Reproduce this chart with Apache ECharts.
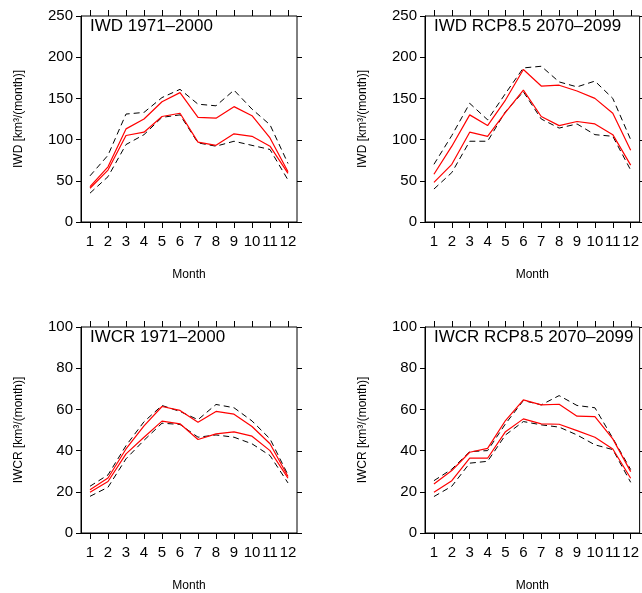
<!DOCTYPE html>
<html>
<head>
<meta charset="utf-8">
<script src="https://cdn.jsdelivr.net/npm/echarts@6/dist/echarts.min.js"></script>
<style>
  html, body { margin: 0; padding: 0; background: #fff; }
  #chart { width: 642px; height: 593px; }
</style>
</head>
<body>
<div id="chart"></div>
<script>
var months = ['1', '2', '3', '4', '5', '6', '7', '8', '9', '10', '11', '12'];

// IWD 1971-2000
var iwdHistHi = [56, 81, 131, 133, 151, 161, 143, 141, 160, 137, 118, 71];
var iwdHistRedHi = [43, 67, 113, 125, 146, 157, 127, 126, 140, 129, 102, 61];
var iwdHistRedLo = [41, 63, 105, 109, 128, 132, 97, 93, 107, 104, 92, 59];
var iwdHistLo = [35, 55, 94, 106, 127, 130, 96, 92, 98, 93, 88, 51];

// IWD RCP8.5 2070-2099
var iwdFutHi = [70, 105, 144, 124, 156, 187, 189, 170, 164, 171, 150, 100];
var iwdFutRedHi = [58, 92, 130, 117, 148, 185, 165, 166, 159, 150, 132, 87];
var iwdFutRedLo = [48, 70, 109, 104, 133, 160, 128, 117, 122, 119, 106, 69];
var iwdFutLo = [40, 60, 98, 98, 134, 158, 125, 114, 119, 106, 104, 63];

// IWCR 1971-2000
var iwcrHistHi = [22.7, 28.2, 42.4, 54, 61.9, 59, 55, 62.4, 60.8, 54.4, 45.7, 28.2];
var iwcrHistRedHi = [21, 26.7, 40.8, 52, 61.4, 59.5, 53.8, 59, 57.7, 51.7, 43.3, 27.4];
var iwcrHistRedLo = [19.8, 25, 38.4, 46.5, 54.3, 53, 45.4, 48.1, 49.1, 47, 40, 26.6];
var iwcrHistLo = [17.8, 22.2, 36, 45, 53.3, 52.7, 46.5, 47.6, 46.5, 43.3, 37.6, 24.3];

// IWCR RCP8.5 2070-2099
var iwcrFutHi = [25.4, 31, 39.5, 40, 53, 64.3, 62.2, 66.7, 61.9, 60.8, 46, 30.8];
var iwcrFutRedHi = [23.8, 30.3, 39.2, 41.1, 54.6, 64.6, 62.2, 62.5, 56.7, 56.5, 45.7, 29.8];
var iwcrFutRedLo = [19.8, 25.4, 36.3, 36.3, 49.2, 55.4, 53, 52.8, 49.7, 46.5, 40.8, 26.6];
var iwcrFutLo = [17.7, 22.7, 33.9, 34.8, 47.6, 54.1, 52.5, 51.4, 47.6, 42.8, 40.5, 24.6];

var panels = [
  { title: 'IWD 1971\u20132000', yName: 'IWD [km\u00b3/(month)]', max: 250, step: 50,
    lines: [iwdHistHi, iwdHistRedHi, iwdHistRedLo, iwdHistLo],
    left: 81, top: 16, width: 216, height: 206 },
  { title: 'IWD RCP8.5 2070\u20132099', yName: 'IWD [km\u00b3/(month)]', max: 250, step: 50,
    lines: [iwdFutHi, iwdFutRedHi, iwdFutRedLo, iwdFutLo],
    left: 425, top: 16, width: 215, height: 206 },
  { title: 'IWCR 1971\u20132000', yName: 'IWCR [km\u00b3/(month)]', max: 100, step: 20,
    lines: [iwcrHistHi, iwcrHistRedHi, iwcrHistRedLo, iwcrHistLo],
    left: 81, top: 327, width: 216, height: 206 },
  { title: 'IWCR RCP8.5 2070\u20132099', yName: 'IWCR [km\u00b3/(month)]', max: 100, step: 20,
    lines: [iwcrFutHi, iwcrFutRedHi, iwcrFutRedLo, iwcrFutLo],
    left: 425, top: 327, width: 215, height: 206 }
];

var font = 'Liberation Sans, Arial, sans-serif';
var black = '#000';
var grids = [], xAxes = [], yAxes = [], series = [], titles = [];

panels.forEach(function (p, i) {
  grids.push({ left: p.left, top: p.top, width: p.width, height: p.height,
    show: true, borderColor: black, borderWidth: 1, backgroundColor: 'transparent' });
  titles.push({ text: p.title, left: p.left + 9, top: p.top + 2, padding: 0,
    textStyle: { fontFamily: font, fontSize: 17, fontWeight: 'normal', color: black } });

  xAxes.push({
    type: 'category', gridIndex: i, data: months, position: 'bottom',
    name: 'Month', nameLocation: 'middle', nameGap: 47,
    nameTextStyle: { fontFamily: font, fontSize: 12, color: black },
    axisLine: { onZero: false, lineStyle: { color: black, width: 1 } },
    axisTick: { show: true, alignWithLabel: true, length: 6, lineStyle: { color: black } },
    axisLabel: { interval: 0, margin: 12, fontFamily: font, fontSize: 15, color: black },
    splitLine: { show: false }
  });
  yAxes.push({
    type: 'value', gridIndex: i, position: 'left', min: 0, max: p.max, interval: p.step,
    name: p.yName, nameLocation: 'middle', nameGap: 56, nameRotate: 90,
    nameTextStyle: { fontFamily: font, fontSize: 12, color: black },
    axisLine: { show: true, onZero: false, lineStyle: { color: black, width: 1 } },
    axisTick: { show: true, length: 5, lineStyle: { color: black } },
    axisLabel: { margin: 8, fontFamily: font, fontSize: 15, color: black },
    splitLine: { show: false }
  });

  p.lines.forEach(function (vals, k) {
    var dashed = (k === 0 || k === 3);
    series.push({
      type: 'line', xAxisIndex: i, yAxisIndex: i, data: vals,
      symbol: 'none', silent: true, z: dashed ? 2 : 3,
      lineStyle: dashed
        ? { color: black, width: 1, type: [6, 4] }
        : { color: '#ff0000', width: 1.2 }
    });
  });
});

var chart = echarts.init(document.getElementById('chart'));
chart.setOption({
  animation: false,
  backgroundColor: '#fff',
  title: titles,
  grid: grids,
  xAxis: xAxes,
  yAxis: yAxes,
  series: series
});

// mirror ticks on the top and right edges, placed with each panel's axes
function xPix(i, p, k) {
  var x = null;
  try { x = chart.convertToPixel({ xAxisIndex: i }, months[k]); } catch (e) { x = null; }
  if (typeof x !== 'number' || !isFinite(x)) x = p.left + (k + 0.5) * p.width / months.length;
  return Math.round(x) + 0.5;
}
function yPix(i, p, v) {
  var y = null;
  try { y = chart.convertToPixel({ yAxisIndex: i }, v); } catch (e) { y = null; }
  if (typeof y !== 'number' || !isFinite(y)) y = p.top + p.height * (1 - v / p.max);
  return Math.round(y) + 0.5;
}

var ticks = [];
panels.forEach(function (p, i) {
  var right = p.left + p.width;
  for (var k = 0; k < months.length; k++) {
    var x = xPix(i, p, k);
    ticks.push({ type: 'line', silent: true, z: 10,
      shape: { x1: x, y1: p.top, x2: x, y2: p.top - 6 },
      style: { stroke: black, lineWidth: 1 } });
  }
  for (var v = 0; v <= p.max; v += p.step) {
    var y = yPix(i, p, v);
    ticks.push({ type: 'line', silent: true, z: 10,
      shape: { x1: right, y1: y, x2: right + 5, y2: y },
      style: { stroke: black, lineWidth: 1 } });
  }
});
chart.setOption({ graphic: { elements: ticks } });
</script>
</body>
</html>
